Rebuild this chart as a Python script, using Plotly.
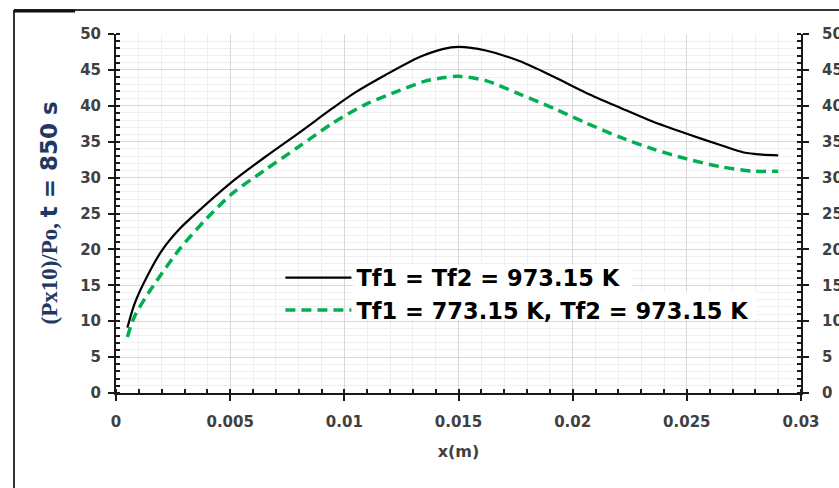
import plotly.graph_objects as go

# ---- data ----
x_same = [0.0005, 0.0008, 0.0012, 0.002, 0.0028, 0.0036, 0.005, 0.0065, 0.008, 0.0095,
          0.0105, 0.0118, 0.0133, 0.0143, 0.015, 0.0162, 0.0177, 0.0192, 0.0206, 0.0221,
          0.0235, 0.025, 0.0265, 0.0275, 0.0283, 0.029]
p_same = [9.1, 12.3, 15.2, 19.8, 22.9, 25.3, 29.2, 32.8, 36.2, 39.7,
          41.9, 44.3, 46.8, 47.9, 48.2, 47.7, 46.2, 44.0, 41.8, 39.7,
          37.8, 36.1, 34.5, 33.5, 33.2, 33.1]

x_diff = [0.0005, 0.0008, 0.0015, 0.0028, 0.004, 0.0051, 0.0065, 0.008, 0.0095, 0.011,
          0.0124, 0.0135, 0.0143, 0.015, 0.0162, 0.0177, 0.0192, 0.0206, 0.0221, 0.0235,
          0.025, 0.0265, 0.0279, 0.029]
p_diff = [7.8, 10.6, 14.3, 20.1, 24.4, 27.8, 31.0, 34.3, 37.6, 40.3,
          42.1, 43.4, 43.9, 44.1, 43.5, 41.6, 39.6, 37.6, 35.6, 34.0,
          32.6, 31.5, 30.9, 30.9]

name_same = "Tf1 = Tf2 = 973.15 K"
name_diff = "Tf1 = 773.15 K, Tf2 = 973.15 K"

x_ticks = [0, 0.005, 0.01, 0.015, 0.02, 0.025, 0.03]
x_tick_labels = ["0", "0.005", "0.01", "0.015", "0.02", "0.025", "0.03"]
y_ticks = [0, 5, 10, 15, 20, 25, 30, 35, 40, 45, 50]

W, H = 839, 488
ML, MR, MT, MB = 116, 38, 34, 95

FONT = "DejaVu Sans"
TICK_FONT = dict(family=FONT, size=15, color="#404040", weight="bold")
AX_COLOR = "#1a1a1a"

fig = go.Figure()
fig.add_trace(go.Scatter(x=x_same, y=p_same, mode="lines", name=name_same,
                         line=dict(color="#000000", width=2.2, shape="spline", smoothing=0.8)))
fig.add_trace(go.Scatter(x=x_diff, y=p_diff, mode="lines", name=name_diff,
                         line=dict(color="#00B050", width=3.5, dash="10px,6px",
                                   shape="spline", smoothing=0.8)))

xcommon = dict(range=[0, 0.03], tickvals=x_ticks, ticktext=x_tick_labels)
ycommon = dict(range=[0, 50], tickvals=y_ticks)

fig.update_layout(
    width=W, height=H, template="none",
    paper_bgcolor="white", plot_bgcolor="white",
    margin=dict(l=ML, r=MR, t=MT, b=MB),
    font=dict(family=FONT, color="#404040"),
    xaxis=dict(**xcommon, showline=True, linecolor=AX_COLOR, linewidth=2,
               ticks="outside", ticklen=6, tickwidth=2, tickcolor=AX_COLOR,
               tickfont=TICK_FONT, ticklabelstandoff=8,
               showgrid=True, gridcolor="#d9d9d9", gridwidth=1.3,
               minor=dict(dtick=0.001, ticks="inside", ticklen=4, tickwidth=1.5,
                          tickcolor=AX_COLOR, showgrid=True, gridcolor="#efefef", gridwidth=1),
               zeroline=False,
               title=dict(text="<b>x(m)</b>", font=dict(family=FONT, size=16, color="#404040"),
                          standoff=16)),
    xaxis2=dict(**xcommon, overlaying="x", matches="x", side="bottom", showline=False,
                ticks="inside", ticklen=4, tickwidth=2, tickcolor=AX_COLOR,
                showticklabels=False, showgrid=False, zeroline=False),
    yaxis=dict(**ycommon, showline=True, linecolor=AX_COLOR, linewidth=2,
               ticks="outside", ticklen=6, tickwidth=2, tickcolor=AX_COLOR,
               tickfont=TICK_FONT, ticklabelstandoff=4,
               showgrid=True, gridcolor="#d9d9d9", gridwidth=1.3,
               minor=dict(dtick=1, ticks="inside", ticklen=4, tickwidth=1.5,
                          tickcolor=AX_COLOR, showgrid=True, gridcolor="#efefef", gridwidth=1),
               zeroline=False),
    yaxis2=dict(**ycommon, overlaying="y", matches="y", side="right", showline=True,
                linecolor=AX_COLOR, linewidth=2,
                ticks="outside", ticklen=6, tickwidth=2, tickcolor=AX_COLOR,
                tickfont=TICK_FONT, ticklabelstandoff=10,
                minor=dict(dtick=1, ticks="inside", ticklen=4, tickwidth=1.5, tickcolor=AX_COLOR),
                showgrid=False, zeroline=False),
    yaxis3=dict(**ycommon, overlaying="y", matches="y", side="left", showline=False,
                ticks="inside", ticklen=4, tickwidth=2, tickcolor=AX_COLOR,
                showticklabels=False, showgrid=False, zeroline=False),
    yaxis4=dict(**ycommon, overlaying="y", matches="y", side="right", showline=False,
                ticks="inside", ticklen=4, tickwidth=2, tickcolor=AX_COLOR,
                showticklabels=False, showgrid=False, zeroline=False),
    legend=dict(x=0.24, y=0.38, xanchor="left", yanchor="top",
                bgcolor="rgba(0,0,0,0)", borderwidth=0,
                font=dict(family=FONT, size=22.5, color="#000000", weight="bold"),
                itemwidth=66, tracegroupgap=0),
    showlegend=True,
)

# overlay axes need something plotted on them to be drawn; use the same series invisibly
for xa, ya in [("x2", "y2"), ("x2", "y3"), ("x", "y4")]:
    fig.add_trace(go.Scatter(x=x_same, y=p_same, xaxis=xa, yaxis=ya, mode="lines",
                             line=dict(width=0), opacity=0, showlegend=False, hoverinfo="skip"))

# y-axis title (mixed fonts)
fig.add_annotation(
    xref="paper", yref="paper", x=(48 - ML) / (W - ML - MR), y=0.5,
    xanchor="center", yanchor="middle", textangle=-90, showarrow=False,
    text=('<span style="font-family:Liberation Serif">(Px10)/Po,</span>'
          ' <span style="font-family:DejaVu Sans">t = 850 s</span>'),
    font=dict(family="Liberation Serif", size=23, color="#1F3864", weight="bold"),
)

# white boxes behind the legend text
pw = W - ML - MR
ph = H - MT - MB
def px2x(px):
    return (px - ML) / pw
def py2y(py):
    return (H - MB - py) / ph
fig.add_shape(type="rect", xref="paper", yref="paper", layer="above",
              x0=px2x(353), x1=px2x(632), y0=py2y(292), y1=py2y(265),
              fillcolor="white", line=dict(width=0))
fig.add_shape(type="rect", xref="paper", yref="paper", layer="above",
              x0=px2x(353), x1=px2x(757), y0=py2y(320), y1=py2y(292),
              fillcolor="white", line=dict(width=0))

# outer frame (left and top edges visible)
fig.add_shape(type="line", xref="paper", yref="paper",
              x0=px2x(14), x1=px2x(14), y0=py2y(490), y1=py2y(10),
              line=dict(color="#333333", width=2))
fig.add_shape(type="line", xref="paper", yref="paper",
              x0=px2x(14), x1=px2x(845), y0=py2y(10), y1=py2y(10),
              line=dict(color="#333333", width=2))
fig.add_shape(type="line", xref="paper", yref="paper",
              x0=px2x(14), x1=px2x(75), y0=py2y(11), y1=py2y(11),
              line=dict(color="#111111", width=3))

fig.write_html("out.html")
